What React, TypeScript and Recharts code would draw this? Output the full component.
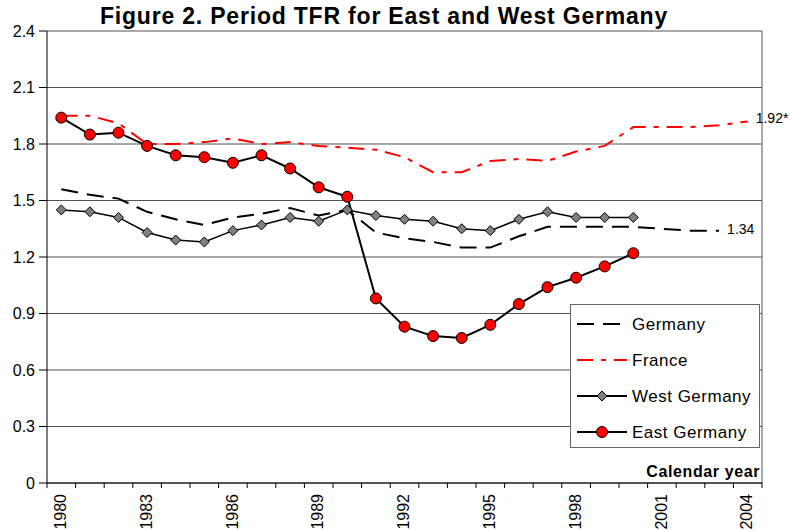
import React from 'react';
import { LineChart, Line, XAxis, YAxis, CartesianGrid, Legend, LabelList, Label } from 'recharts';

// Period TFR
const years = [
  1980, 1981, 1982, 1983, 1984, 1985, 1986, 1987, 1988, 1989, 1990, 1991, 1992,
  1993, 1994, 1995, 1996, 1997, 1998, 1999, 2000, 2001, 2002, 2003, 2004,
];
const germany = [
  1.56, 1.53, 1.51, 1.44, 1.4, 1.37, 1.41, 1.43, 1.46, 1.42, 1.45, 1.33, 1.3,
  1.28, 1.25, 1.25, 1.31, 1.36, 1.36, 1.36, 1.36, 1.35, 1.34, 1.34, null,
];
const france = [
  1.95, 1.95, 1.91, 1.8, 1.8, 1.81, 1.83, 1.8, 1.81, 1.79, 1.78, 1.77, 1.73,
  1.65, 1.65, 1.71, 1.72, 1.71, 1.76, 1.79, 1.89, 1.89, 1.89, 1.9, 1.92,
];
const westGermany = [
  1.45, 1.44, 1.41, 1.33, 1.29, 1.28, 1.34, 1.37, 1.41, 1.39, 1.45, 1.42, 1.4,
  1.39, 1.35, 1.34, 1.4, 1.44, 1.41, 1.41, 1.41, null, null, null, null,
];
const eastGermany = [
  1.94, 1.85, 1.86, 1.79, 1.74, 1.73, 1.7, 1.74, 1.67, 1.57, 1.52, 0.98, 0.83,
  0.78, 0.77, 0.84, 0.95, 1.04, 1.09, 1.15, 1.22, null, null, null, null,
];
const yTicks = [0, 0.3, 0.6, 0.9, 1.2, 1.5, 1.8, 2.1, 2.4];

const data = years.map((year, i) => ({
  year,
  germany: germany[i],
  france: france[i],
  west: westGermany[i],
  east: eastGermany[i],
}));

const FONT = '"Liberation Sans", Arial, sans-serif';
const STEP = 715 / years.length; // width of one year on the axis

const Diamond = (props: any) => {
  const { cx, cy, index } = props;
  if (cx == null || cy == null) return <g key={`d${index}`} />;
  const s = 5;
  return (
    <polygon
      key={`d${index}`}
      points={`${cx},${cy - s} ${cx + s},${cy} ${cx},${cy + s} ${cx - s},${cy}`}
      fill="#808080"
      stroke="#000"
      strokeWidth={1}
    />
  );
};

const YearTick = (props: any) => {
  const { x, y, payload } = props;
  const idx = payload.index;
  const base = y - 8;
  return (
    <g>
      <line x1={x - STEP / 2} y1={base} x2={x - STEP / 2} y2={base + 5} stroke="#000" />
      {idx === years.length - 1 && (
        <line x1={x + STEP / 2} y1={base} x2={x + STEP / 2} y2={base + 5} stroke="#000" />
      )}
      {idx % 3 === 0 && (
        <text
          x={x}
          y={y + 3}
          transform={`rotate(-90, ${x}, ${y + 3})`}
          textAnchor="end"
          dy="0.3em"
          fontSize={16}
          fontFamily={FONT}
          fill="#000"
        >
          {payload.value}
        </text>
      )}
    </g>
  );
};

const endLabel = (lastIdx: number, suffix: string, dy: number) => (p: any) => {
  if (p.index !== lastIdx || p.value == null) return null;
  return (
    <text x={p.x + 8} y={p.y + dy} dy="0.35em" fontSize={14} fontFamily={FONT} fill="#000">
      {Number(p.value).toFixed(2) + suffix}
    </text>
  );
};

const series = [
  { name: 'Germany', stroke: '#000', dash: '17 9', marker: null },
  { name: 'France', stroke: '#ff0000', dash: '16 8 5 8', marker: null },
  { name: 'West Germany', stroke: '#000', dash: undefined, marker: 'diamond' },
  { name: 'East Germany', stroke: '#000', dash: undefined, marker: 'circle' },
];

const LegendBox = () => (
  <div style={{ width: 190, height: 144, border: '1px solid #666', background: '#fff', boxSizing: 'border-box' }}>
    <svg width={188} height={142}>
      {series.map((s, i) => {
        const cy = 19 + i * 36;
        return (
          <g key={s.name}>
            <line x1={6} y1={cy} x2={56} y2={cy} stroke={s.stroke} strokeWidth={2} strokeDasharray={s.dash} />
            {s.marker === 'diamond' && (
              <polygon points={`31,${cy - 5} 36,${cy} 31,${cy + 5} 26,${cy}`} fill="#808080" stroke="#000" />
            )}
            {s.marker === 'circle' && <circle cx={31} cy={cy} r={5.5} fill="#ff0000" stroke="#000" />}
            <text x={61} y={cy} dy="0.35em" fontSize={17} letterSpacing={0.5} fontFamily={FONT} fill="#000">
              {s.name}
            </text>
          </g>
        );
      })}
    </svg>
  </div>
);

export default function App() {
  return (
    <div style={{ position: 'absolute', left: 0, top: 0, width: 790, height: 530, background: '#fff', fontFamily: FONT }}>
      <div
        style={{
          position: 'absolute',
          left: 0,
          top: 5,
          width: 768,
          textAlign: 'center',
          fontSize: 23,
          lineHeight: '23px',
          fontWeight: 'bold',
          letterSpacing: 0.8,
          zIndex: 2,
        }}
      >
        Figure 2. Period TFR for East and West Germany
      </div>
      <LineChart width={790} height={530} data={data} margin={{ top: 31, right: 28, bottom: 2, left: 7 }}>
        <CartesianGrid
          stroke="#555"
          vertical
          verticalCoordinatesGenerator={({ offset }: any) => (offset ? [offset.left + offset.width] : [762])}
        />
        <XAxis
          dataKey="year"
          type="category"
          height={45}
          interval={0}
          padding={{ left: STEP / 2, right: STEP / 2 }}
          tickLine={false}
          tickSize={5}
          tickMargin={3}
          axisLine={{ stroke: '#000' }}
          tick={<YearTick />}
        >
          <Label
            content={({ viewBox }: any) => (
              <text
                x={viewBox.x + viewBox.width - 2}
                y={viewBox.y - 6}
                textAnchor="end"
                fontSize={16}
                fontWeight="bold"
                letterSpacing={0.6}
                fontFamily={FONT}
                fill="#000"
              >
                Calendar year
              </text>
            )}
          />
        </XAxis>
        <YAxis
          domain={[0, 2.4]}
          ticks={yTicks}
          width={40}
          tickSize={8}
          tickMargin={4}
          axisLine={{ stroke: '#000' }}
          tickLine={{ stroke: '#000' }}
          tick={{ fontSize: 16, fill: '#000', fontFamily: FONT }}
          tickFormatter={(v: number) => (v === 0 ? '0' : v.toFixed(1))}
        />
        <Legend
          layout="vertical"
          align="center"
          verticalAlign="middle"
          wrapperStyle={{ left: 570, top: 304, width: 190, height: 144 }}
          content={<LegendBox />}
        />
        <Line
          dataKey="germany"
          name="Germany"
          stroke="#000"
          strokeWidth={2}
          strokeDasharray="17 9"
          dot={false}
          isAnimationActive={false}
        >
          <LabelList dataKey="germany" content={endLabel(23, '', -2)} />
        </Line>
        <Line
          dataKey="france"
          name="France"
          stroke="#ff0000"
          strokeWidth={2}
          strokeDasharray="16 8 5 8"
          dot={false}
          isAnimationActive={false}
        >
          <LabelList dataKey="france" content={endLabel(24, '*', -3)} />
        </Line>
        <Line
          dataKey="west"
          name="West Germany"
          stroke="#000"
          strokeWidth={1.5}
          dot={<Diamond />}
          isAnimationActive={false}
        />
        <Line
          dataKey="east"
          name="East Germany"
          stroke="#000"
          strokeWidth={2}
          dot={{ r: 5.5, fill: '#ff0000', stroke: '#000', strokeWidth: 1 }}
          isAnimationActive={false}
        />
      </LineChart>
    </div>
  );
}
